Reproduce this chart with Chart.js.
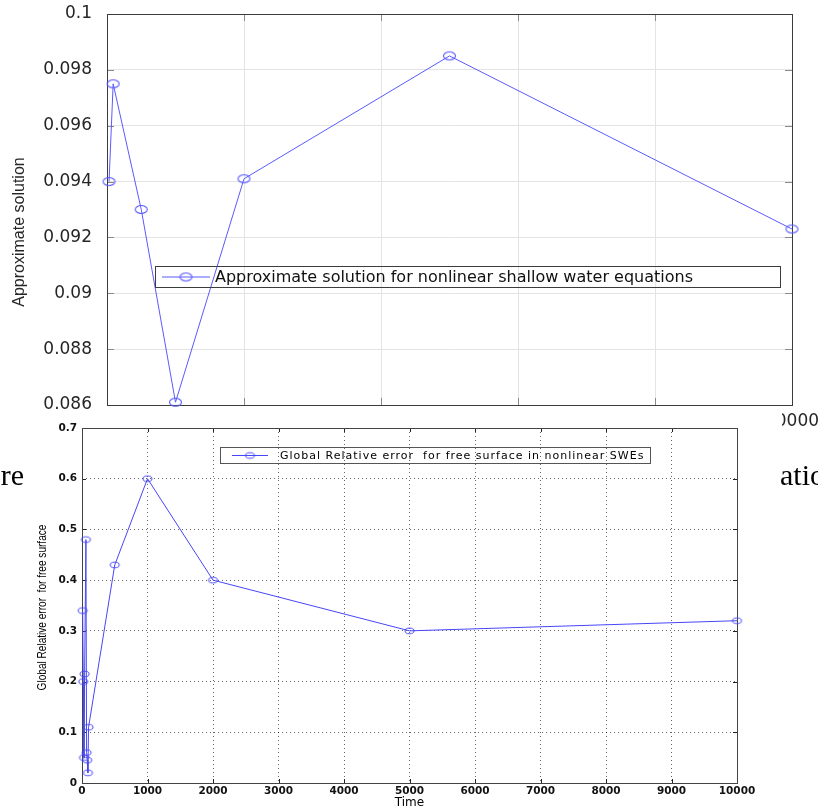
<!DOCTYPE html>
<html><head><meta charset="utf-8">
<script src="https://cdn.jsdelivr.net/npm/chart.js@4"></script>
<style>
html,body{margin:0;padding:0;background:#fff;width:818px;height:810px;overflow:hidden;}
#wrap{position:relative;width:818px;height:810px;overflow:hidden;background:#fff;}
#topBox{position:absolute;left:0;top:0;width:818px;height:430px;}
#botBox{position:absolute;left:0;top:412px;width:782px;height:398px;background:#fff;}
.frag{position:absolute;font-family:"Liberation Serif","DejaVu Serif",serif;font-size:30px;color:#000;white-space:nowrap;line-height:1;}
#fragL{left:0;top:460px;width:24px;text-align:right;}
#fragR{left:780px;top:460px;}
canvas{display:block;}
</style></head>
<body><div id="wrap">
<div id="topBox"><canvas id="topChart" width="818" height="430"></canvas></div>
<div id="botBox"><canvas id="botChart" width="782" height="398"></canvas></div>
<div class="frag" id="fragL">re</div>
<div class="frag" id="fragR">ation</div>
</div>
<script>
// ---------- Top chart data ----------
const topTime = [30, 90, 500, 1000, 2000, 5000, 10000];
const topSolution = [0.0940, 0.0975, 0.0930, 0.0861, 0.0941, 0.0985, 0.0923];
const topXTicks = [0, 2000, 4000, 6000, 8000, 10000];
const topXTickLabels = ['0', '2000', '4000', '6000', '8000', '10000'];
const topYTicks = [0.086, 0.088, 0.09, 0.092, 0.094, 0.096, 0.098, 0.1];
const topYTickLabels = ['0.086', '0.088', '0.09', '0.092', '0.094', '0.096', '0.098', '0.1'];
const topSeriesName = 'Approximate solution for nonlinear shallow water equations';
const topYTitle = 'Approximate solution';

// ---------- Bottom chart data ----------
const errTime = [10, 20, 30, 40, 60, 70, 80, 90, 100, 500, 1000, 2000, 5000, 10000];
const errValue = [0.34, 0.20, 0.05, 0.215, 0.48, 0.06, 0.045, 0.02, 0.11, 0.43, 0.60, 0.40, 0.30, 0.32];
const botXTicks = [0, 1000, 2000, 3000, 4000, 5000, 6000, 7000, 8000, 9000, 10000];
const botXTickLabels = ['0', '1000', '2000', '3000', '4000', '5000', '6000', '7000', '8000', '9000', '10000'];
const botYTicks = [0, 0.1, 0.2, 0.3, 0.4, 0.5, 0.6, 0.7];
const botYTickLabels = ['0', '0.1', '0.2', '0.3', '0.4', '0.5', '0.6', '0.7'];
const botSeriesName = 'Global Relative error  for free surface in nonlinear SWEs';
const botYTitle = 'Global Relative error  for free surface';
const botXTitle = 'Time';

const TOP_BLUE = 'rgb(90,90,255)';
const BOT_BLUE = 'rgb(70,70,250)';

function ellipseMarker(rx, ry, color, lw) {
  const c = document.createElement('canvas');
  c.width = Math.ceil(2 * rx + 2 * lw + 2);
  c.height = Math.ceil(2 * ry + 2 * lw + 2);
  const g = c.getContext('2d');
  g.strokeStyle = color; g.lineWidth = lw;
  g.beginPath(); g.ellipse(c.width / 2, c.height / 2, rx, ry, 0, 0, Math.PI * 2); g.stroke();
  return c;
}
const topMarker = ellipseMarker(6, 4, TOP_BLUE, 1.1);
const botMarker = ellipseMarker(4.5, 2.8, BOT_BLUE, 1);

function decor(cfg) {
  return {
    id: 'decor' + cfg.name,
    beforeDatasetsDraw(chart) {
      const { ctx, chartArea: a, scales: { x, y } } = chart;
      ctx.save();
      ctx.lineWidth = 1;
      ctx.strokeStyle = cfg.tickColor;
      ctx.beginPath();
      x.ticks.forEach(t => {
        const px = Math.round(x.getPixelForValue(t.value)) + 0.5;
        ctx.moveTo(px, a.bottom); ctx.lineTo(px, a.bottom - cfg.tickLen);
        ctx.moveTo(px, a.top); ctx.lineTo(px, a.top + cfg.tickLen);
      });
      y.ticks.forEach(t => {
        const py = Math.round(y.getPixelForValue(t.value)) + 0.5;
        ctx.moveTo(a.left, py); ctx.lineTo(a.left + cfg.tickLen, py);
        ctx.moveTo(a.right, py); ctx.lineTo(a.right - cfg.tickLen, py);
      });
      ctx.stroke();
      ctx.strokeStyle = cfg.frameColor;
      ctx.strokeRect(Math.round(a.left) + 0.5, Math.round(a.top) + 0.5,
        Math.round(a.right - a.left), Math.round(a.bottom - a.top));
      if (cfg.yTitle) {
        const T = cfg.yTitle;
        ctx.save();
        ctx.translate(T.x, T.y);
        ctx.rotate(-Math.PI / 2);
        ctx.scale(T.squeeze || 1, 1);
        ctx.font = T.font;
        ctx.fillStyle = T.color;
        ctx.textAlign = 'center'; ctx.textBaseline = 'middle';
        ctx.fillText(T.text, 0, 0);
        ctx.restore();
      }
      ctx.restore();
    },
    afterDatasetsDraw(chart) {
      const L = cfg.legend;
      const { ctx } = chart;
      const ds = chart.data.datasets[0];
      ctx.save();
      ctx.lineWidth = 1;
      ctx.strokeStyle = L.border;
      ctx.strokeRect(L.x, L.y, L.w, L.h);
      const cy = L.y + L.h / 2;
      ctx.strokeStyle = ds.borderColor;
      ctx.beginPath(); ctx.moveTo(L.s0, cy); ctx.lineTo(L.s1, cy); ctx.stroke();
      const m = ds.pointStyle;
      ctx.drawImage(m, L.mx - m.width / 2, cy - m.height / 2);
      ctx.font = L.font;
      if (L.spacing && 'letterSpacing' in ctx) ctx.letterSpacing = L.spacing;
      ctx.fillStyle = L.color;
      ctx.textAlign = 'left'; ctx.textBaseline = 'middle';
      ctx.fillText(ds.label, L.tx, cy + 0.5);
      ctx.restore();
    }
  };
}

Chart.defaults.font.family = '"DejaVu Sans", sans-serif';

new Chart(document.getElementById('topChart'), {
  type: 'scatter',
  data: {
    datasets: [{
      label: topSeriesName,
      data: topTime.map((t, i) => ({ x: t, y: topSolution[i] })),
      showLine: true,
      borderColor: TOP_BLUE,
      borderWidth: 1,
      pointStyle: topMarker,
      pointRadius: 6,
      clip: false,
      tension: 0
    }]
  },
  options: {
    responsive: false, animation: false, devicePixelRatio: 1,
    layout: { padding: { top: 14, right: 26, left: 0, bottom: 0 } },
    plugins: { legend: { display: false }, tooltip: { enabled: false } },
    scales: {
      x: {
        type: 'linear', min: 0, max: 10000,
        afterBuildTicks: s => { s.ticks = topXTicks.map(v => ({ value: v })); },
        ticks: { callback: (v, i) => topXTickLabels[i], font: { size: 17 }, color: '#262626', padding: 6, maxRotation: 0, autoSkip: false },
        grid: { color: '#e4e4e4', drawTicks: false },
        border: { display: false },
        afterFit: s => { s.height = 25; s.paddingLeft = 0; s.paddingRight = 0; }
      },
      y: {
        type: 'linear', min: 0.086, max: 0.1,
        afterBuildTicks: s => { s.ticks = topYTicks.map(v => ({ value: v })); },
        ticks: { callback: (v, i) => topYTickLabels[i], font: { size: 17 }, color: '#262626', padding: 15, autoSkip: false },
        grid: { color: '#e4e4e4', drawTicks: false },
        border: { display: false },
        afterFit: s => { s.width = 107; s.paddingTop = 0; s.paddingBottom = 0; }
      }
    }
  },
  plugins: [decor({
    name: 'Top', tickColor: '#8a8a8a', tickLen: 7, frameColor: '#3c3c3c',
    yTitle: { x: 20, y: 232, text: topYTitle, font: '16px "Liberation Sans", Arial, sans-serif', color: '#262626' },
    legend: { x: 155.5, y: 266.5, w: 625, h: 21, s0: 162, s1: 210, mx: 186, tx: 215,
      font: '16px "DejaVu Sans", sans-serif', color: '#111', border: '#3c3c3c' }
  })]
});

new Chart(document.getElementById('botChart'), {
  type: 'scatter',
  data: {
    datasets: [{
      label: botSeriesName,
      data: errTime.map((t, i) => ({ x: t, y: errValue[i] })),
      showLine: true,
      borderColor: BOT_BLUE,
      borderWidth: 1,
      pointStyle: botMarker,
      pointRadius: 5,
      clip: false,
      tension: 0
    }]
  },
  options: {
    responsive: false, animation: false, devicePixelRatio: 1,
    layout: { padding: { top: 16, right: 45, left: 0, bottom: 0 } },
    plugins: { legend: { display: false }, tooltip: { enabled: false } },
    scales: {
      x: {
        type: 'linear', min: 0, max: 10000,
        afterBuildTicks: s => { s.ticks = botXTicks.map(v => ({ value: v })); },
        ticks: { callback: (v, i) => botXTickLabels[i], font: { size: 10.5, weight: 'bold' }, color: '#111', padding: 2, maxRotation: 0, autoSkip: false },
        grid: { color: 'rgba(0,0,0,0.6)', drawTicks: false },
        border: { display: false, dash: [1, 3] },
        title: { display: true, text: botXTitle, font: { size: 12 }, color: '#000', padding: { top: 0, bottom: 0 } },
        afterFit: s => { s.height = 27; s.paddingLeft = 0; s.paddingRight = 0; }
      },
      y: {
        type: 'linear', min: 0, max: 0.7,
        afterBuildTicks: s => { s.ticks = botYTicks.map(v => ({ value: v })); },
        ticks: { callback: (v, i) => botYTickLabels[i], font: { size: 10.5, weight: 'bold' }, color: '#111', padding: 5, autoSkip: false },
        grid: { color: 'rgba(0,0,0,0.6)', drawTicks: false },
        border: { display: false, dash: [1, 3] },
        afterFit: s => { s.width = 82; s.paddingTop = 0; s.paddingBottom = 0; }
      }
    }
  },
  plugins: [decor({
    name: 'Bot', tickColor: '#222', tickLen: 4, frameColor: '#444',
    yTitle: { x: 43, y: 195.5, text: botYTitle, font: '12px "Liberation Sans", Arial, sans-serif', color: '#000', squeeze: 0.84 },
    legend: { x: 220.5, y: 35.5, w: 430, h: 16, s0: 232, s1: 268, mx: 250, tx: 280,
      font: '11px "DejaVu Sans", sans-serif', color: '#000', border: '#555', spacing: '1px' }
  })]
});
</script>
</body></html>
